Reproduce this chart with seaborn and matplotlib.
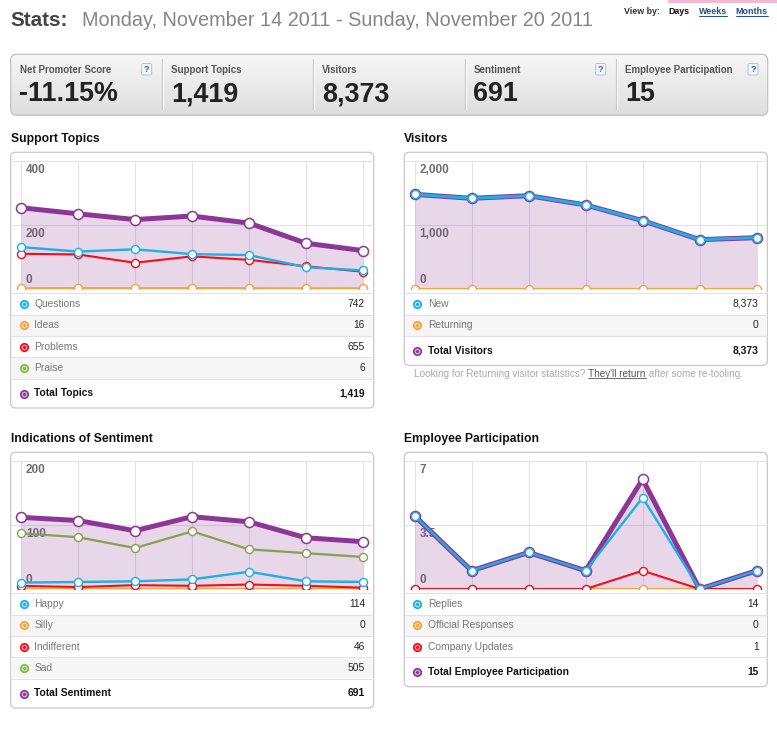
import numpy as np
import pandas as pd
import seaborn as sns
import matplotlib.pyplot as plt
from matplotlib.patches import FancyBboxPatch, Rectangle
from matplotlib.colors import LinearSegmentedColormap

W, H = 777, 750

days = ['Mon 14', 'Tue 15', 'Wed 16', 'Thu 17', 'Fri 18', 'Sat 19', 'Sun 20']

stat_names = ['Net Promoter Score', 'Support Topics', 'Visitors', 'Sentiment', 'Employee Participation']
stat_values = ['-11.15%', '1,419', '8,373', '691', '15']
stat_help = [True, False, False, True, True]

# support topics
topic_questions = [131, 117, 124, 109, 106, 68, 58]
topic_ideas = [2, 3, 2, 3, 2, 2, 2]
topic_problems = [110, 108, 82, 102, 91, 71, 54]
topic_praise = [1, 1, 1, 1, 1, 0, 1]
topic_total = [254, 235, 217, 228, 206, 143, 120]

# visitors
visitors_new = [1479, 1417, 1458, 1313, 1068, 771, 802]
visitors_returning = [0, 0, 0, 0, 0, 0, 0]
visitors_total = [1479, 1417, 1458, 1313, 1068, 771, 802]

# sentiment
sent_happy = [10, 11, 12, 15, 27, 12, 11]
sent_silly = [0, 0, 0, 0, 0, 0, 0]
sent_indifferent = [5, 3, 6, 5, 7, 5, 2]
sent_sad = [87, 81, 64, 90, 62, 56, 50]
sent_total = [112, 107, 91, 113, 105, 80, 74]

# employee participation
emp_replies = [4, 1, 2, 1, 5, 0, 1]
emp_official = [0, 0, 0, 0, 0, 0, 0]
emp_updates = [0, 0, 0, 0, 1, 0, 0]
emp_total = [4, 1, 2, 1, 6, 0, 1]

topic_labels = ['Questions', 'Ideas', 'Problems', 'Praise', 'Total Topics']
topic_sums = ['742', '16', '655', '6', '1,419']
visitor_labels = ['New', 'Returning', 'Total Visitors']
visitor_sums = ['8,373', '0', '8,373']
sent_labels = ['Happy', 'Silly', 'Indifferent', 'Sad', 'Total Sentiment']
sent_sums = ['114', '0', '46', '505', '691']
emp_labels = ['Replies', 'Official Responses', 'Company Updates', 'Total Employee Participation']
emp_sums = ['14', '0', '1', '15']

CYAN = '#1cb0e6'
ORANGE = '#f7a43a'
RED = '#f70d17'
GREEN = '#7fbf45'
OLIVE = '#86a14f'
PURPLE = '#8c3795'

sns.set_theme(style='white')
plt.rcParams['font.family'] = ['Liberation Sans', 'DejaVu Sans']

fig = plt.figure(figsize=(W / 100, H / 100), dpi=100)
bg = fig.add_axes([0, 0, 1, 1])
bg.set_xlim(0, W)
bg.set_ylim(H, 0)
bg.axis('off')

# header
bg.add_patch(Rectangle((668, 0), 109, 2.5, fc='#f4b8d0', ec='none'))
bg.text(10.7, 26, 'Stats:', fontsize=14.9, fontweight='bold', color='#444444', va='baseline')
bg.text(82, 26, 'Monday, November 14 2011 - Sunday, November 20 2011', fontsize=14.3,
        color='#858585', va='baseline')
bg.text(624, 11.5, 'View by:', fontsize=6.4, fontweight='bold', color='#333333', va='center')
bg.text(668.7, 11.5, 'Days', fontsize=6.4, fontweight='bold', color='#111111', va='center')
for lx, rx, word in [(698.7, 727, 'Weeks'), (735.7, 767.7, 'Months')]:
    bg.text(lx, 11.5, word, fontsize=6.4, fontweight='bold', color='#1f4e8c', va='center')
    bg.plot([lx, rx], [15.5, 15.5], color='#1f4e8c', lw=0.7)

# stats bar
bar = FancyBboxPatch((10.7, 54.3), 757, 61, boxstyle='round,pad=0,rounding_size=6',
                     fc='none', ec='#c2c2c2', lw=0.9, zorder=3)
bg.add_patch(bar)
grad = np.linspace(0, 1, 64).reshape(-1, 1)
im = bg.imshow(grad, extent=(10.7, 767.7, 115.3, 54.3), aspect='auto', zorder=1,
               cmap=LinearSegmentedColormap.from_list('bar', ['#f7f7f7', '#dedede']))
im.set_clip_path(bar)
bg.set_xlim(0, W)
bg.set_ylim(H, 0)

cell_x = [20, 171.3, 322.3, 474, 625.3]
for dx in [161.7, 312.7, 464.7, 616]:
    bg.plot([dx, dx], [59, 110], color='#c6c6c6', lw=0.8, zorder=2)
    bg.plot([dx + 1, dx + 1], [59, 110], color='#fbfbfb', lw=0.8, zorder=2)
help_x = [146.7, None, None, 600.7, 753]
for i, name in enumerate(stat_names):
    bg.text(cell_x[i], 69.7, name, fontsize=7, fontweight='bold', color='#555555', va='center', zorder=4)
    bg.text(cell_x[i] - 0.5, 101, stat_values[i], fontsize=19.4, fontweight='bold', color='#222222',
            va='baseline', zorder=4)
    if stat_help[i]:
        hx = help_x[i]
        bg.add_patch(FancyBboxPatch((hx - 5, 63.5), 10, 11.5, boxstyle='round,pad=0,rounding_size=1.5',
                                    fc='#f3f7fd', ec='#a9c4e8', lw=0.7, zorder=4))
        bg.text(hx, 69.5, '?', fontsize=6.5, fontweight='bold', color='#2a62c0',
                ha='center', va='center', zorder=5)


def icon(x, y, color):
    bg.scatter([x], [y], s=44, color=color, lw=0, zorder=5)
    bg.scatter([x], [y], s=17, color='white', lw=0, alpha=0.6, zorder=6)
    bg.scatter([x], [y], s=5, color=color, lw=0, zorder=7)


def panel(left, top, title, labels, sums, colors):
    right = left + 363
    n = len(labels) - 1
    bottom = top + 141 + 21.3 * n + 29.5
    bg.text(left, top - 13.3, title, fontsize=8.7, fontweight='bold', color='#111111', va='center')
    bg.add_patch(FancyBboxPatch((left, top), 363, bottom - top, boxstyle='round,pad=0,rounding_size=5',
                                fc='white', ec='#c8c8c8', lw=0.9, zorder=1))
    for i in range(n + 1):
        y0 = top + 141 + 21.3 * i
        if i % 2 == 1 and i < n:
            bg.add_patch(Rectangle((left + 0.7, y0), 361.6, 21.3, fc='#f6f6f6', ec='none', zorder=1.5))
        bg.plot([left + 0.7, right - 0.7], [y0, y0], color='#e3e3e3', lw=0.8, zorder=1.6)
        yc = y0 + 10.7 if i < n else y0 + 15
        bold = i == n
        icon(left + 12.8, yc, colors[i])
        bg.text(left + 23.5, yc, labels[i], fontsize=7.4, va='center',
                fontweight='bold' if bold else 'normal', color='#111111' if bold else '#777777')
        bg.text(right - 8.8, yc, sums[i], fontsize=7.4, va='center', ha='right',
                fontweight='bold' if bold else 'normal', color='#111111' if bold else '#222222')
    return bottom


def chart(left, top, total, series, ymax, ylabels):
    ax = fig.add_axes([(left + 1) / W, 1 - (top + 136.7) / H, 361 / W, 128 / H])
    ax.patch.set_alpha(0)
    x = np.arange(len(days))
    ax.fill_between(x, total, color=PURPLE, alpha=0.2, lw=0, zorder=1)
    sns.lineplot(x=x, y=total, ax=ax, color=PURPLE, lw=3.6, marker='o', ms=7.2,
                 mfc='white', mec=PURPLE, mew=1.1, zorder=3)
    for k, (vals, col, lw) in enumerate(series):
        sns.lineplot(x=x, y=vals, ax=ax, color=col, lw=lw, marker='o', ms=5.8,
                     mfc='white', mec=col, mew=1.0, zorder=4 + k)
    for v, txt in zip([ymax, ymax / 2, 0], ylabels):
        off = (3.6, 2.2) if v == 0 else (3.6, -2.2)
        ax.annotate(txt, xy=(0, v), xytext=off, textcoords='offset points',
                    va='bottom' if v == 0 else 'top', ha='left', fontsize=8.5, fontweight='bold',
                    color='#6e6e6e', zorder=0.8, annotation_clip=False)
    ax.set_xlim(-9.3 / 57, 6 + 9.7 / 57)
    ax.set_ylim(0, ymax)
    ax.set_xticks(x)
    ax.set_yticks([ymax / 2, ymax])
    ax.grid(True, color='#e3e3e3', lw=0.75)
    ax.set_axisbelow(True)
    for gl in ax.get_ygridlines():
        gl.set_clip_on(False)
    ax.tick_params(length=0, labelbottom=False, labelleft=False)
    ax.set_xlabel('')
    ax.set_ylabel('')
    sns.despine(ax=ax, left=True, bottom=True)
    return ax


panel(10.7, 152.3, 'Support Topics', topic_labels, topic_sums, [CYAN, ORANGE, RED, GREEN, PURPLE])
vis_bottom = panel(404.3, 152.3, 'Visitors', visitor_labels, visitor_sums, [CYAN, ORANGE, PURPLE])
panel(10.7, 452.3, 'Indications of Sentiment', sent_labels, sent_sums, [CYAN, ORANGE, RED, GREEN, PURPLE])
panel(404.3, 452.3, 'Employee Participation', emp_labels, emp_sums, [CYAN, ORANGE, RED, PURPLE])

# visitors footnote
renderer = fig.canvas.get_renderer()
inv = bg.transData.inverted()
fy = vis_bottom + 8.5
xpos = 414
for txt, col, under in [('Looking for Returning visitor statistics? ', '#ababab', False),
                        ("They'll return", '#555555', True),
                        (' after some re-tooling.', '#ababab', False)]:
    t = bg.text(xpos, fy, txt, fontsize=7.2, color=col, va='center')
    ext = inv.transform(t.get_window_extent(renderer))
    if under:
        bg.plot([ext[0][0], ext[1][0]], [fy + 4.5, fy + 4.5], color=col, lw=0.6)
    xpos = ext[1][0]

chart(10.7, 152.3, topic_total,
      [(topic_praise, GREEN, 1.5), (topic_ideas, ORANGE, 1.5), (topic_problems, RED, 1.5),
       (topic_questions, CYAN, 1.7)], 400, ['400', '200', '0'])
chart(404.3, 152.3, visitors_total,
      [(visitors_returning, ORANGE, 1.5), (visitors_new, CYAN, 2.2)], 2000, ['2,000', '1,000', '0'])
chart(10.7, 452.3, sent_total,
      [(sent_sad, OLIVE, 1.6), (sent_silly, ORANGE, 1.5), (sent_indifferent, RED, 1.5),
       (sent_happy, CYAN, 1.7)], 200, ['200', '100', '0'])
chart(404.3, 452.3, emp_total,
      [(emp_official, ORANGE, 1.5), (emp_updates, RED, 1.5), (emp_replies, CYAN, 1.7)],
      7, ['7', '3.5', '0'])

fig.savefig('out.png', dpi=100)
